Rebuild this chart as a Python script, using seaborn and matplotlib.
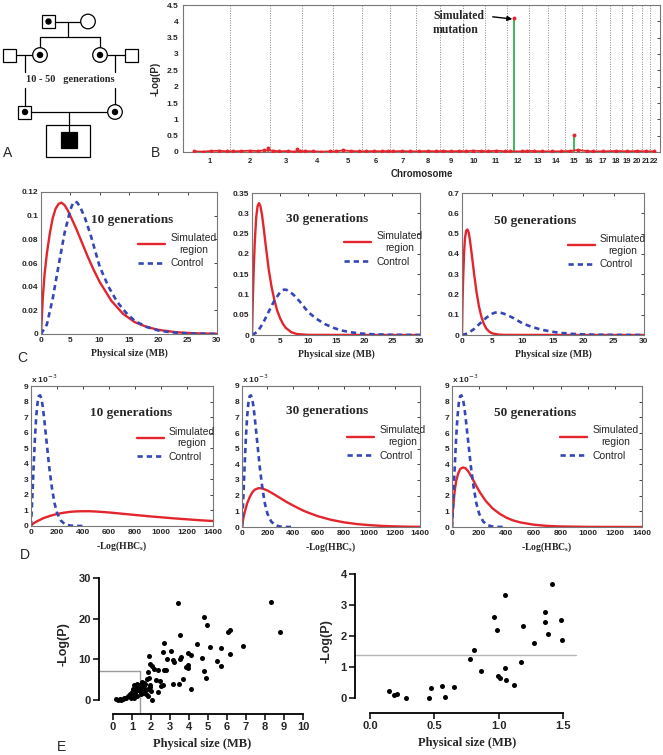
import matplotlib
matplotlib.use("Agg")
import matplotlib.pyplot as plt
from matplotlib.patches import Rectangle, Circle
import seaborn as sns
import numpy as np
import pandas as pd

# ── Style ─────────────────────────────────────────────────────────────────────
sns.set_style("white")
plt.rcParams["font.family"] = ["Liberation Sans", "DejaVu Sans"]
SERIF = ["Liberation Serif", "DejaVu Serif"]
RED, BLUE, GREEN, GRAY = "#e3262d", "#3447b5", "#2fb34a", "#777777"
W, H = 663, 755

# ── Data: panel B (genome scan) ──────────────────────────────────────────────
CHR_LEN = [249, 243, 198, 191, 181, 171, 159, 146, 141, 136, 135,
           134, 115, 107, 103, 90, 81, 78, 59, 63, 48, 51]
CHR_NAMES = [str(i) for i in range(1, 23)]
SNP_CHR = [1, 1, 1, 1, 1, 2, 2, 2, 2, 2, 2, 3, 3, 3, 3, 3, 3, 4, 4, 4, 4,
           5, 5, 5, 5, 6, 6, 6, 6, 7, 7, 7, 8, 8, 8, 9, 9, 9, 10, 10, 10,
           11, 11, 11, 12, 12, 12, 12, 13, 13, 14, 14, 15, 15, 15, 16, 16,
           17, 18, 19, 20, 21, 22]
SNP_POS = [30, 80, 130, 180, 230, 20, 70, 120, 170, 210, 236, 20, 60, 110, 150, 167, 185,
           20, 70, 120, 170, 20, 60, 110, 160, 20, 70, 120, 160, 20, 70, 120,
           20, 70, 120, 20, 70, 120, 20, 60, 110, 20, 70, 120, 20, 45, 90, 120,
           30, 80, 30, 80, 30, 58, 80, 30, 70, 40, 40, 30, 30, 25, 25]
SNP_VAL = [0.02, 0.01, 0.03, 0.04, 0.02, 0.02, 0.03, 0.04, 0.03, 0.05, 0.13,
           0.04, 0.02, 0.03, 0.01, 0.10, 0.02, 0.03, 0.02, 0.01, 0.02,
           0.02, 0.05, 0.03, 0.02, 0.02, 0.03, 0.02, 0.03, 0.02, 0.03, 0.02,
           0.02, 0.03, 0.02, 0.03, 0.02, 0.03, 0.02, 0.04, 0.03, 0.02, 0.04, 0.02,
           0.02, 4.10, 0.02, 0.03, 0.03, 0.02, 0.02, 0.02, 0.03, 0.52, 0.06,
           0.03, 0.02, 0.02, 0.03, 0.02, 0.03, 0.02, 0.02]

# ── Data: panel C (physical size densities, MB) ──────────────────────────────
C_X_CTRL = [0, 1, 2, 3, 4, 5, 5.4, 5.8, 6.2, 6.8, 7.5, 8.5, 10, 11.5, 13, 14.5, 16, 18, 20, 22, 25, 30]
C_Y_CTRL = [0, 0.008, 0.03, 0.058, 0.085, 0.105, 0.110, 0.112, 0.111, 0.106, 0.098, 0.083, 0.057,
            0.04, 0.027, 0.018, 0.011, 0.006, 0.003, 0.0015, 0.0005, 0]
C_X_SIM10 = [0, 0.3, 0.6, 1, 1.5, 2, 2.5, 3, 3.5, 4, 4.5, 5, 6, 7, 8, 9, 10, 12, 14, 16, 18, 20, 23, 26, 30]
C_Y_SIM10 = [0, 0.03, 0.05, 0.068, 0.085, 0.098, 0.106, 0.110, 0.111, 0.109, 0.105, 0.100, 0.089,
             0.077, 0.065, 0.054, 0.044, 0.028, 0.017, 0.010, 0.006, 0.0035, 0.0015, 0.0006, 0.0002]
C_X_SIM30 = [0, 0.15, 0.3, 0.5, 0.75, 1.0, 1.25, 1.5, 1.8, 2.1, 2.5, 3, 3.5, 4, 4.5, 5, 5.5, 6, 7, 8, 10, 30]
C_Y_SIM30 = [0, 0.09, 0.16, 0.23, 0.29, 0.318, 0.325, 0.318, 0.295, 0.262, 0.215, 0.16, 0.118,
             0.086, 0.06, 0.042, 0.028, 0.018, 0.007, 0.0025, 0.0003, 0]
C_X_SIM50 = [0, 0.1, 0.2, 0.35, 0.5, 0.7, 0.9, 1.1, 1.3, 1.6, 2, 2.4, 2.8, 3.2, 3.6, 4, 4.5, 5, 6, 7, 30]
C_Y_SIM50 = [0, 0.18, 0.29, 0.41, 0.48, 0.515, 0.52, 0.505, 0.47, 0.4, 0.3, 0.21, 0.14, 0.09,
             0.055, 0.032, 0.016, 0.008, 0.002, 0.0005, 0]

# ── Data: panel D (-Log(HBCs) densities, x 10^-3) ────────────────────────────
D_X_CTRL = [0, 10, 20, 30, 40, 50, 60, 70, 80, 90, 100, 120, 140, 160, 180, 200, 230, 260, 300, 350, 400]
D_Y_CTRL = [0, 1.8, 3.8, 5.6, 7.0, 7.9, 8.35, 8.4, 8.2, 7.7, 7.0, 5.4, 3.8, 2.5, 1.5, 0.85,
            0.35, 0.12, 0.03, 0.005, 0]
D_X_SIM10 = [0, 25, 50, 100, 150, 200, 250, 300, 350, 400, 450, 500, 600, 700, 800, 900,
             1000, 1100, 1200, 1300, 1400]
D_Y_SIM10 = [0.05, 0.2, 0.32, 0.52, 0.66, 0.77, 0.85, 0.91, 0.94, 0.95, 0.95, 0.93, 0.87,
             0.79, 0.71, 0.63, 0.56, 0.49, 0.43, 0.37, 0.32]
D_X_SIM30 = [0, 10, 20, 40, 60, 80, 100, 130, 160, 200, 250, 300, 350, 400, 450, 500, 600,
             700, 800, 900, 1000, 1100, 1200, 1300, 1400]
D_Y_SIM30 = [0, 0.55, 0.9, 1.5, 1.9, 2.2, 2.38, 2.48, 2.46, 2.33, 2.1, 1.85, 1.6, 1.38, 1.17,
             0.98, 0.68, 0.46, 0.3, 0.19, 0.12, 0.07, 0.04, 0.02, 0.01]
D_X_SIM50 = [0, 5, 10, 20, 30, 45, 60, 80, 100, 120, 150, 180, 210, 250, 300, 350, 400, 450,
             500, 600, 700, 800, 1000, 1400]
D_Y_SIM50 = [0, 0.9, 1.4, 2.3, 2.9, 3.4, 3.7, 3.8, 3.75, 3.55, 3.1, 2.6, 2.15, 1.65, 1.18,
             0.85, 0.6, 0.42, 0.3, 0.15, 0.07, 0.035, 0.008, 0]

# ── Data: panel E (scatter) ──────────────────────────────────────────────────
E1_X = [3.43, 8.31, 8.77, 4.77, 4.96, 3.54, 6.07, 6.15, 2.69, 4.40, 5.12, 5.67, 6.85,
        2.61, 3.03, 1.87, 3.93, 4.08, 6.16, 2.83, 3.17, 3.52, 3.59, 3.20, 4.70,
        4.79, 4.89, 5.46, 5.67, 3.82, 3.93, 3.94, 2.06, 1.95, 2.13, 1.83, 2.38, 2.69, 2.78,
        2.46, 2.24, 2.64, 2.55, 2.39, 3.17, 3.47, 3.70, 4.10, 2.04, 1.78, 1.88, 1.50, 1.34,
        1.52, 1.65, 1.70, 1.85, 1.92, 2.00, 1.97, 1.28, 1.22, 1.10, 1.05, 1.12, 0.98, 0.88,
        0.80, 0.70, 0.60, 0.35, 0.18, 0.26, 0.40, 0.50, 1.00, 1.15, 1.33, 1.40, 1.45, 1.60,
        1.75, 1.82, 0.92, 1.08, 1.25, 1.55, 1.42, 1.63, 1.70]
E1_Y = [23.8, 24.0, 16.7, 20.4, 18.5, 15.9, 16.6, 17.3, 13.9, 13.8, 13.0, 12.7, 13.2,
        11.7, 12.0, 10.7, 11.5, 11.0, 11.2, 10.1, 9.9, 10.1, 10.6, 9.4, 10.4,
        7.1, 5.5, 9.6, 8.3, 8.2, 8.6, 7.9, 8.3, 8.9, 7.7, 6.9, 7.3, 7.3, 7.4,
        4.6, 4.9, 3.8, 3.4, 2.0, 3.9, 3.9, 5.1, 2.6, 0.1, 5.1, 5.4, 4.5, 3.8,
        3.2, 3.5, 2.5, 2.8, 3.3, 2.2, 3.6, 4.0, 3.3, 3.6, 2.6, 2.1, 2.0, 1.4,
        1.0, 0.6, 0.4, 0.2, 0.3, 0.1, 0.05, 0.3, 1.1, 1.6, 2.5, 2.2, 1.4, 1.7,
        1.5, 0.9, 0.6, 0.5, 0.9, 2.7, 3.0, 4.1, 3.9]
E2_X = [0.145, 0.189, 0.207, 0.277, 0.460, 0.471, 0.559, 0.582, 0.654, 0.778, 0.809, 0.864,
        0.965, 0.983, 0.990, 1.009, 1.050, 1.050, 1.055, 1.117, 1.169, 1.190, 1.275, 1.358,
        1.358, 1.383, 1.409, 1.482, 1.492]
E2_Y = [0.24, 0.10, 0.14, 0.0, 0.0, 0.34, 0.38, 0.02, 0.35, 1.27, 1.56, 0.86,
        2.63, 2.20, 0.72, 0.65, 3.33, 0.97, 0.57, 0.41, 1.18, 2.31, 1.78, 2.77,
        2.45, 2.06, 3.68, 2.53, 1.88]
E1_THRESH = (1.4, 7)   # (size, -log P)
E2_THRESH = 1.4


def rect(l, t, r, b):
    return [l / W, 1 - b / H, (r - l) / W, (b - t) / H]


def bold_ticks(ax, size):
    for lbl in ax.get_xticklabels() + ax.get_yticklabels():
        lbl.set_fontweight("bold")
        lbl.set_fontsize(size)


fig = plt.figure(figsize=(W / 100, H / 100), dpi=100)

# ── Panel A: pedigree ────────────────────────────────────────────────────────
axA = fig.add_axes(rect(0, 0, 170, 170))
axA.set_xlim(0, 170); axA.set_ylim(170, 0); axA.axis("off")
LW = 0.9


def male(x, y, s=13, dot=False, fill=False):
    axA.add_patch(Rectangle((x - s / 2, y - s / 2), s, s, fc="black" if fill else "white",
                            ec="black", lw=LW, zorder=3))
    if dot:
        axA.add_patch(Circle((x, y), 2.5, color="black", zorder=4))


def female(x, y, r=7.3, dot=False):
    axA.add_patch(Circle((x, y), r, fc="white", ec="black", lw=LW, zorder=3))
    if dot:
        axA.add_patch(Circle((x, y), 2.5, color="black", zorder=4))


def seg(x1, y1, x2, y2):
    axA.plot([x1, x2], [y1, y2], color="black", lw=LW, zorder=2)


male(48.5, 21.5, dot=True); female(88, 21.5)
seg(48.5, 21.5, 88, 21.5); seg(68, 21.5, 68, 37); seg(40, 37, 100, 37)
seg(40, 37, 40, 55); seg(100, 37, 100, 55)
male(10, 55); female(40, 55, dot=True); seg(10, 55, 40, 55)
female(100, 55, dot=True); male(131.5, 55); seg(100, 55, 131.5, 55)
seg(25, 55, 25, 72); seg(115, 55, 115, 72)
axA.text(70, 80, "10 - 50   generations", ha="center", va="center", family=SERIF,
         fontweight="bold", fontsize=7.5)
seg(25, 88, 25, 112); seg(115, 88, 115, 112)
male(25, 112, dot=True); female(115, 112, dot=True); seg(25, 112, 115, 112)
seg(69, 112, 69, 132)
axA.add_patch(Rectangle((46, 125), 44, 32, fc="none", ec="black", lw=LW, zorder=2))
male(69, 140, s=16, fill=True)

# ── Panel B: genome-wide scan ────────────────────────────────────────────────
axB = fig.add_axes(rect(183, 5, 660, 152))
ends = np.cumsum(CHR_LEN)
starts = ends - np.array(CHR_LEN)
mids = starts + np.array(CHR_LEN) / 2
snp = pd.DataFrame({"chr": SNP_CHR, "pos": SNP_POS, "val": SNP_VAL})
snp["x"] = starts[snp["chr"] - 1] + snp["pos"]
peaks = snp[snp["val"] > 0.08]
base = snp[snp["val"] <= 0.08]
for b in ends[:-1]:
    axB.axvline(b, color="#8a8a8a", lw=0.7, ls=(0, (1, 1.5)), zorder=1)
axB.vlines(peaks["x"], 0, peaks["val"], color=GREEN, lw=1.3, zorder=2)
sns.lineplot(data=base, x="x", y="val", color=RED, lw=1.3, ax=axB, zorder=3)
sns.scatterplot(data=snp, x="x", y="val", color=RED, s=8, linewidth=0, ax=axB, zorder=4)
axB.set_xlim(-40, 2890); axB.set_ylim(0, 4.5)
axB.set_yticks(np.arange(0, 4.51, 0.5))
axB.set_yticklabels([f"{v:g}" for v in np.arange(0, 4.51, 0.5)])
axB.set_xticks(mids); axB.set_xticklabels(CHR_NAMES)
axB.tick_params(axis="x", length=0, pad=4)
axB.tick_params(axis="y", direction="in", length=2, width=0.6, right=True)
bold_ticks(axB, 6)
for lbl in axB.get_xticklabels():
    lbl.set_fontsize(5.5)
for s in axB.spines.values():
    s.set_color(GRAY); s.set_linewidth(0.8)
axB.set_xlabel("Chromosome", fontsize=7, fontweight="bold", labelpad=3)
axB.set_ylabel("-Log(P)", fontsize=7, fontweight="bold", labelpad=4)
top = peaks.loc[peaks["val"].idxmax()]
axB.annotate("Simulated\nmutation", xy=(top["x"] - 12, top["val"] - 0.03),
             xytext=(0.524, 0.965), textcoords="axes fraction", ha="left", va="top",
             family=SERIF, fontweight="bold", fontsize=8.5,
             arrowprops=dict(arrowstyle="-|>", color="black", lw=1.0, relpos=(1, 0.78),
                             mutation_scale=7, shrinkA=4, shrinkB=0))


# ── Panels C & D: density curves ─────────────────────────────────────────────
def density_panel(box, cx, cy, sx, sy, title, tpos, lpos, xlim, xt, ylim, yt, xlabel, sci):
    ax = fig.add_axes(rect(*box))
    sns.lineplot(x=sx, y=sy, color=RED, lw=1.7, ax=ax, label="Simulated\nregion")
    sns.lineplot(x=cx, y=cy, color=BLUE, lw=1.9, ls=(0, (2.0, 1.5)), ax=ax, label="Control")
    ax.set_xlim(*xlim); ax.set_ylim(*ylim)
    ax.set_xticks(xt); ax.set_xticklabels([f"{v:g}" for v in xt])
    ax.set_yticks(yt); ax.set_yticklabels([f"{v:g}" for v in yt])
    ax.tick_params(direction="in", length=2, width=0.6, right=True, top=True, pad=2)
    bold_ticks(ax, 6)
    for s in ax.spines.values():
        s.set_color(GRAY); s.set_linewidth(0.8)
    ax.text(tpos[0], tpos[1], title, transform=ax.transAxes, ha="center", va="center",
            family=SERIF, fontweight="bold", fontsize=9.5)
    leg = ax.legend(loc="upper left", bbox_to_anchor=lpos, frameon=False, fontsize=7.5,
                    handlelength=2.6, handletextpad=0.5, labelspacing=0.35,
                    borderpad=0, borderaxespad=0)
    for t in leg.get_texts():
        t.set_multialignment("center")
    ax.set_xlabel(xlabel, family=SERIF, fontweight="bold", fontsize=7, labelpad=3)
    ax.set_ylabel("")
    if sci:
        ax.text(0.0, 1.01, r"x 10$^{-3}$", transform=ax.transAxes, ha="left", va="bottom",
                fontsize=6, fontweight="bold")
    return ax


C_XT = [0, 5, 10, 15, 20, 25, 30]
C_LABEL = "Physical size (MB)"
density_panel((41, 192, 217, 334), C_X_CTRL, C_Y_CTRL, C_X_SIM10, C_Y_SIM10, "10 generations",
              (0.52, 0.80), (0.55, 0.71), (0, 30), C_XT, (0, 0.12),
              [0, 0.02, 0.04, 0.06, 0.08, 0.1, 0.12], C_LABEL, False)
density_panel((252, 193, 420, 335), C_X_CTRL, C_Y_CTRL, C_X_SIM30, C_Y_SIM30, "30 generations",
              (0.45, 0.82), (0.55, 0.73), (0, 30), C_XT, (0, 0.35),
              [0, 0.05, 0.1, 0.15, 0.2, 0.25, 0.3, 0.35], C_LABEL, False)
density_panel((462, 193, 644, 335), C_X_CTRL, C_Y_CTRL, C_X_SIM50, C_Y_SIM50, "50 generations",
              (0.40, 0.80), (0.58, 0.71), (0, 30), C_XT, (0, 0.7),
              [0, 0.1, 0.2, 0.3, 0.4, 0.5, 0.6, 0.7], C_LABEL, False)

D_XT = [0, 200, 400, 600, 800, 1000, 1200, 1400]
D_YT = list(range(0, 10))
D_LABEL = r"-Log(HBC$_\mathregular{s}$)"
density_panel((31, 386, 213, 526), D_X_CTRL, D_Y_CTRL, D_X_SIM10, D_Y_SIM10, "10 generations",
              (0.55, 0.81), (0.58, 0.71), (0, 1400), D_XT, (0, 9), D_YT, D_LABEL, True)
density_panel((242, 386, 420, 527), D_X_CTRL, D_Y_CTRL, D_X_SIM30, D_Y_SIM30, "30 generations",
              (0.48, 0.82), (0.59, 0.72), (0, 1400), D_XT, (0, 9), D_YT, D_LABEL, True)
density_panel((452, 386, 642, 527), D_X_CTRL, D_Y_CTRL, D_X_SIM50, D_Y_SIM50, "50 generations",
              (0.44, 0.81), (0.57, 0.72), (0, 1400), D_XT, (0, 9), D_YT, D_LABEL, True)


# ── Panel E: scatter plots ───────────────────────────────────────────────────
def prism_axes(ax, xb, yb):
    sns.despine(ax=ax)
    ax.spines["left"].set_bounds(*yb)
    ax.spines["bottom"].set_bounds(*xb)
    for s in ("left", "bottom"):
        ax.spines[s].set_linewidth(1.3); ax.spines[s].set_color("black")
    ax.tick_params(direction="out", length=4, width=1.3, pad=2, left=True, bottom=True)


axE1 = fig.add_axes(rect(99, 575, 306, 714))
sns.scatterplot(x=E1_X, y=E1_Y, color="black", s=13, linewidth=0, ax=axE1, zorder=3)
axE1.set_xlim(-0.74, 10.16); axE1.set_ylim(-3.44, 30.7)
axE1.plot([-0.74, E1_THRESH[0]], [E1_THRESH[1], E1_THRESH[1]], color="#9a9a9a", lw=1.0)
axE1.plot([E1_THRESH[0], E1_THRESH[0]], [-3.44, E1_THRESH[1]], color="#9a9a9a", lw=1.0)
axE1.set_xticks(range(0, 11)); axE1.set_yticks([0, 10, 20, 30])
prism_axes(axE1, (0, 10), (0, 30))
bold_ticks(axE1, 8)
axE1.set_xlabel("Physical size (MB)", family=SERIF, fontweight="bold", fontsize=9, labelpad=4)
axE1.set_ylabel("-Log(P)", fontweight="bold", fontsize=9, labelpad=6)

axE2 = fig.add_axes(rect(355, 570, 580, 713))
sns.scatterplot(x=E2_X, y=E2_Y, color="black", s=13, linewidth=0, ax=axE2, zorder=3)
axE2.set_xlim(-0.116, 1.63); axE2.set_ylim(-0.48, 4.13)
axE2.plot([-0.116, 1.6], [E2_THRESH, E2_THRESH], color="#b5b5b5", lw=1.0)
axE2.set_xticks([0, 0.5, 1.0, 1.5]); axE2.set_xticklabels(["0.0", "0.5", "1.0", "1.5"])
axE2.set_yticks([0, 1, 2, 3, 4])
prism_axes(axE2, (0, 1.5), (0, 4))
bold_ticks(axE2, 8)
axE2.set_xlabel("Physical size (MB)", family=SERIF, fontweight="bold", fontsize=9, labelpad=4)
axE2.set_ylabel("-Log(P)", fontweight="bold", fontsize=9, labelpad=6)

# ── Panel letters ────────────────────────────────────────────────────────────
for letter, (px, py) in {"A": (8, 153), "B": (156, 153), "C": (22, 358),
                         "D": (25, 555), "E": (62, 747)}.items():
    fig.text(px / W, 1 - py / H, letter, ha="center", va="center", fontsize=10)

fig.savefig("out.png", dpi=100)
